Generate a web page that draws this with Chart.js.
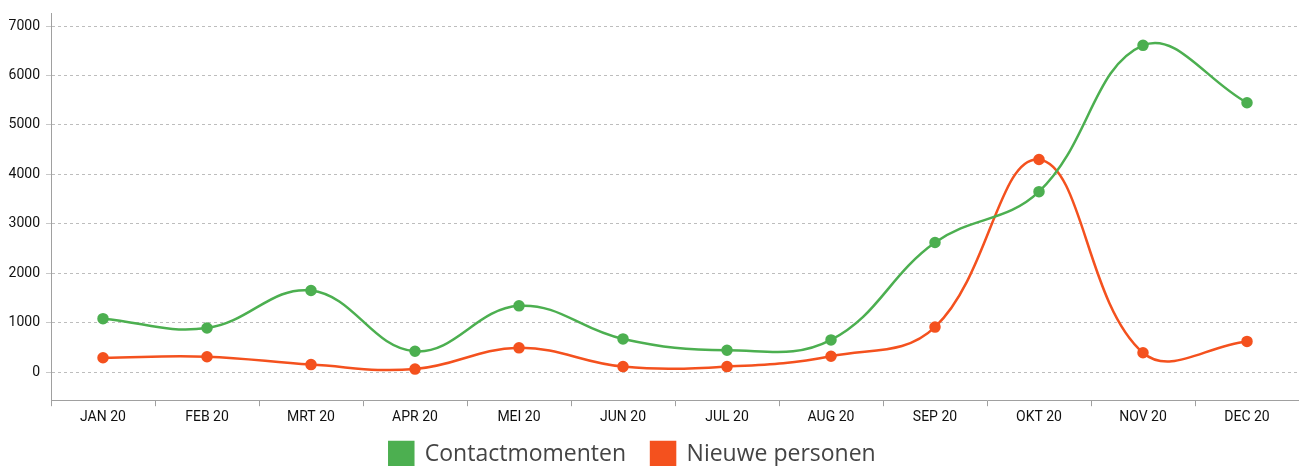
<!DOCTYPE html>
<html>
<head>
<meta charset="utf-8">
<script src="https://cdn.jsdelivr.net/npm/chart.js@4.4.1/dist/chart.umd.min.js"></script>
<style>
html,body{margin:0;padding:0;background:#fff;}
#wrap{width:1299px;height:466px;position:relative;}
</style>
</head>
<body>
<div id="wrap"><canvas id="c" width="1299" height="466"></canvas></div>
<script>
const categories = ['JAN 20','FEB 20','MRT 20','APR 20','MEI 20','JUN 20','JUL 20','AUG 20','SEP 20','OKT 20','NOV 20','DEC 20'];
const contactmomenten = [1080, 890, 1650, 420, 1340, 670, 440, 650, 2620, 3650, 6610, 5450];
const nieuwePersonen = [290, 310, 150, 60, 490, 110, 110, 320, 910, 4300, 390, 620];
const yTickValues = [0, 1000, 2000, 3000, 4000, 5000, 6000, 7000];

const GREEN = '#4caf50';
const ORANGE = '#f4511e';

const legendShift = {
  id: 'legendShift',
  afterLayout(chart) {
    const lg = chart.legend;
    if (!lg) return;
    lg.left -= 17; lg.right -= 17;
    lg.top -= 12; lg.bottom -= 12;
  }
};

new Chart(document.getElementById('c'), {
  type: 'line',
  data: {
    labels: categories,
    datasets: [
      {
        label: 'Contactmomenten',
        data: contactmomenten,
        borderColor: GREEN,
        backgroundColor: GREEN,
        pointBackgroundColor: GREEN,
        pointBorderColor: GREEN,
        borderWidth: 2.5,
        pointRadius: 4.5,
        tension: 0.4,
        fill: false,
        clip: false
      },
      {
        label: 'Nieuwe personen',
        data: nieuwePersonen,
        borderColor: ORANGE,
        backgroundColor: ORANGE,
        pointBackgroundColor: ORANGE,
        pointBorderColor: ORANGE,
        borderWidth: 2.5,
        pointRadius: 4.5,
        tension: 0.4,
        fill: false,
        clip: false
      }
    ]
  },
  plugins: [legendShift],
  options: {
    responsive: false,
    animation: false,
    layout: { autoPadding: false, padding: { top: 13, left: 0, right: 0, bottom: -22 } },
    plugins: {
      tooltip: { enabled: false },
      legend: {
        position: 'bottom',
        labels: {
          font: { family: '"Open Sans", sans-serif', size: 23 },
          color: '#444',
          boxWidth: 24,
          boxHeight: 24,
          padding: 25
        }
      }
    },
    scales: {
      x: {
        offset: true,
        afterFit: (axis) => { axis.paddingLeft = 0; axis.paddingRight = 0; },
        grid: {
          offset: true,
          drawOnChartArea: false,
          drawTicks: true,
          tickLength: 6,
          color: '#a0a0a0'
        },
        border: { display: true, color: '#a0a0a0', width: 1 },
        ticks: {
          font: { family: 'Roboto', size: 14 },
          color: '#111',
          padding: 3,
          maxRotation: 0
        }
      },
      y: {
        min: -570,
        max: 7265,
        afterBuildTicks: (axis) => {
          axis.ticks = yTickValues.map(v => ({ value: v }));
        },
        afterFit: (axis) => { axis.width = 51; axis.paddingTop = 0; axis.paddingBottom = 0; },
        grid: {
          drawTicks: true,
          tickLength: 5,
          tickColor: '#c8c8c8',
          tickBorderDash: [],
          color: '#bdbdbd',
          lineWidth: 1
        },
        border: { display: true, color: '#a0a0a0', width: 1, dash: [3, 3] },
        ticks: {
          font: { family: 'Roboto', size: 14 },
          color: '#111',
          padding: 6,
          callback: (v) => String(v)
        }
      }
    }
  }
});
</script>
</body>
</html>
